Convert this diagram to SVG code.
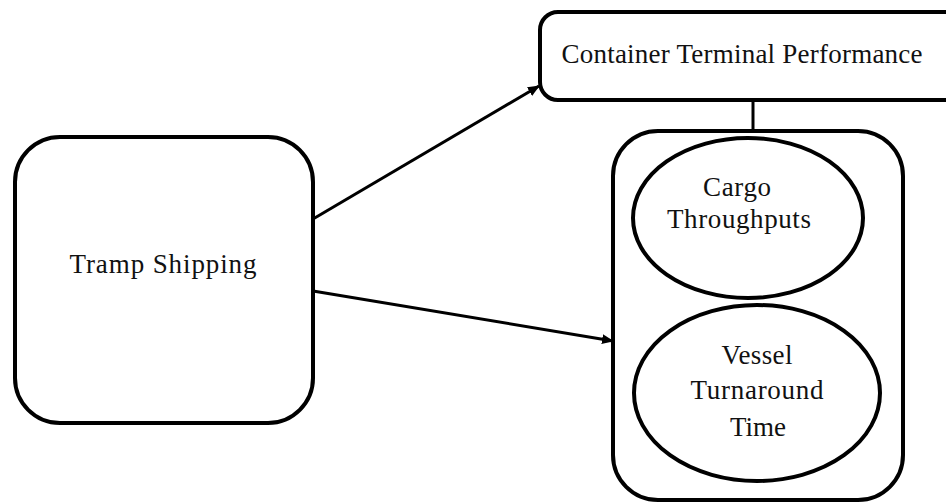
<svg xmlns="http://www.w3.org/2000/svg" width="946" height="502" viewBox="0 0 946 502">
<style>
.box{fill:#fff;stroke:#000;stroke-width:4}
.ell{fill:#fff;stroke:#000;stroke-width:4}
.lbl{font-family:"Liberation Serif",serif;font-size:27px;fill:#111;text-anchor:middle}
.con{stroke:#000;stroke-width:3;fill:none}
</style>
<defs>
<marker id="ah" markerWidth="12" markerHeight="10" refX="11" refY="5" orient="auto" markerUnits="userSpaceOnUse">
<path d="M0,0 L12,5 L0,10 z" fill="#000"/>
</marker>
</defs>
<g id="connectors">
<line class="con" x1="313" y1="219" x2="539" y2="86" marker-end="url(#ah)"/>
<line class="con" x1="313" y1="291" x2="613" y2="341" marker-end="url(#ah)"/>
<line class="con" x1="753" y1="100" x2="753" y2="131"/>
</g>
<g id="tramp">
<rect class="box" x="15" y="137" width="298" height="286" rx="45"/>
<text class="lbl" x="163" y="273" textLength="187">Tramp Shipping</text>
</g>
<g id="ctp">
<rect class="box" x="540" y="12" width="430" height="88" rx="18"/>
<text class="lbl" x="742" y="63" textLength="361">Container Terminal Performance</text>
</g>
<g id="group">
<rect class="box" x="613" y="131" width="290" height="369" rx="45"/>
</g>
<g id="cargo">
<ellipse class="ell" cx="748" cy="218" rx="115" ry="80"/>
<text class="lbl" x="737" y="196" textLength="68">Cargo</text>
<text class="lbl" x="739" y="228" textLength="144">Throughputs</text>
</g>
<g id="vessel">
<ellipse class="ell" cx="757" cy="393" rx="123" ry="88"/>
<text class="lbl" x="757" y="364" textLength="71">Vessel</text>
<text class="lbl" x="757" y="399" textLength="133">Turnaround</text>
<text class="lbl" x="758" y="436" textLength="56">Time</text>
</g>
</svg>
